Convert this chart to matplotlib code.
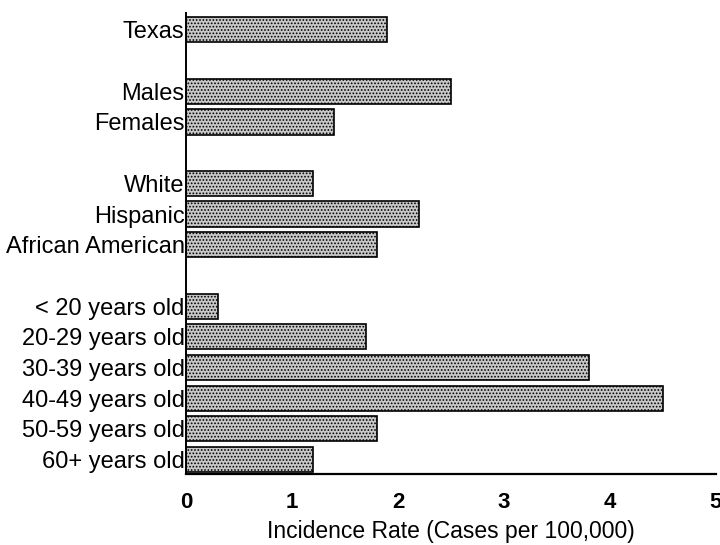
import matplotlib
matplotlib.use("Agg")
import matplotlib.pyplot as plt

labels = ["Texas",
          "Males", "Females",
          "White", "Hispanic", "African American",
          "< 20 years old", "20-29 years old", "30-39 years old",
          "40-49 years old", "50-59 years old", "60+ years old"]
rates = [1.9,
         2.5, 1.4,
         1.2, 2.2, 1.8,
         0.3, 1.7, 3.8, 4.5, 1.8, 1.2]
# row slots, with one empty slot between groups
slots = [0, 2, 3, 5, 6, 7, 9, 10, 11, 12, 13, 14]
xticks = [0, 1, 2, 3, 4, 5]

plt.rcParams['font.family'] = ['Liberation Sans', 'DejaVu Sans']
plt.rcParams['hatch.color'] = '#666666'
plt.rcParams['hatch.linewidth'] = 0.8

fig = plt.figure(figsize=(7.2, 5.45), dpi=100)
ax = fig.add_axes([186 / 720, 1 - 474 / 545, (716 - 186) / 720, (474 - 13) / 545])

ax.barh(slots, rates, height=0.82, color='#c8c8c8', edgecolor='black',
        linewidth=1.2, hatch='.....')

ax.set_ylim(14.47, -0.55)
ax.set_xlim(0, 5)
ax.set_yticks(slots)
ax.set_yticklabels(labels, fontsize=17)
ax.set_xticks(xticks)
ax.set_xticklabels([str(t) for t in xticks], fontsize=16, fontweight='bold')
ax.tick_params(axis='both', length=0)
ax.tick_params(axis='y', pad=1)
ax.tick_params(axis='x', pad=13)
ax.set_xlabel("Incidence Rate (Cases per 100,000)", fontsize=16.5, labelpad=5)

ax.spines['top'].set_visible(False)
ax.spines['right'].set_visible(False)
ax.spines['left'].set_linewidth(1.4)
ax.spines['bottom'].set_linewidth(1.6)

fig.savefig("out.png", dpi=100)
